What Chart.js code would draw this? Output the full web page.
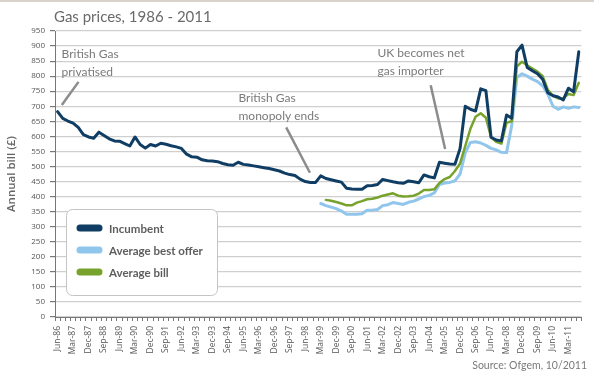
<!DOCTYPE html>
<html>
<head>
    <title>Gas prices, 1986 - 2011</title>
    <script src="https://cdn.jsdelivr.net/npm/chart.js"></script>
    <style>
        body { margin: 0; background: #fff; }
        #chart-gas { display: block; }
    </style>
</head>
<body>
    <canvas id="chart-gas" width="594" height="376"></canvas>

    <script>
        // Trimestres (categorías del eje x)
        const trimestres = [
            'Jun-86','Sep-86','Dec-86',
            'Mar-87','Jun-87','Sep-87','Dec-87',
            'Mar-88','Jun-88','Sep-88','Dec-88',
            'Mar-89','Jun-89','Sep-89','Dec-89',
            'Mar-90','Jun-90','Sep-90','Dec-90',
            'Mar-91','Jun-91','Sep-91','Dec-91',
            'Mar-92','Jun-92','Sep-92','Dec-92',
            'Mar-93','Jun-93','Sep-93','Dec-93',
            'Mar-94','Jun-94','Sep-94','Dec-94',
            'Mar-95','Jun-95','Sep-95','Dec-95',
            'Mar-96','Jun-96','Sep-96','Dec-96',
            'Mar-97','Jun-97','Sep-97','Dec-97',
            'Mar-98','Jun-98','Sep-98','Dec-98',
            'Mar-99','Jun-99','Sep-99','Dec-99',
            'Mar-00','Jun-00','Sep-00','Dec-00',
            'Mar-01','Jun-01','Sep-01','Dec-01',
            'Mar-02','Jun-02','Sep-02','Dec-02',
            'Mar-03','Jun-03','Sep-03','Dec-03',
            'Mar-04','Jun-04','Sep-04','Dec-04',
            'Mar-05','Jun-05','Sep-05','Dec-05',
            'Mar-06','Jun-06','Sep-06','Dec-06',
            'Mar-07','Jun-07','Sep-07','Dec-07',
            'Mar-08','Jun-08','Sep-08','Dec-08',
            'Mar-09','Jun-09','Sep-09','Dec-09',
            'Mar-10','Jun-10','Sep-10','Dec-10',
            'Mar-11','Jun-11','Sep-11'
        ];

        // Factura anual (£) por trimestre
        const incumbent = [
            682, 660, 651, 644, 630, 606, 598, 594, 614, 603,
            592, 585, 584, 576, 568, 598, 573, 561, 573, 568,
            577, 574, 569, 565, 560, 541, 532, 531, 522, 519,
            518, 516, 510, 506, 504, 514, 507, 505, 502, 499,
            496, 493, 489, 485, 478, 473, 470, 458, 450, 447,
            447, 469, 460, 456, 452, 448, 428, 425, 424, 424,
            436, 437, 440, 457, 453, 449, 446, 444, 452, 449,
            446, 472, 466, 462, 514, 511, 508, 507, 560, 700,
            690, 684, 758, 752, 597, 588, 585, 671, 660, 881,
            903, 829, 818, 808, 790, 745, 735, 731, 721, 760,
            748, 881
        ];

        const mejorOferta = [
            null, null, null, null, null, null, null, null, null, null,
            null, null, null, null, null, null, null, null, null, null,
            null, null, null, null, null, null, null, null, null, null,
            null, null, null, null, null, null, null, null, null, null,
            null, null, null, null, null, null, null, null, null, null,
            null, 377, 370, 365, 360, 352, 341, 341, 341, 343,
            355, 355, 357, 370, 373, 380, 377, 374, 381, 385,
            392, 400, 404, 412, 440, 445, 447, 452, 475, 545,
            580, 582, 578, 570, 560, 555, 547, 546, 635, 795,
            808, 800, 790, 782, 768, 740, 700, 690, 698, 693,
            698, 696
        ];

        const facturaMedia = [
            null, null, null, null, null, null, null, null, null, null,
            null, null, null, null, null, null, null, null, null, null,
            null, null, null, null, null, null, null, null, null, null,
            null, null, null, null, null, null, null, null, null, null,
            null, null, null, null, null, null, null, null, null, null,
            null, null, 389, 386, 382, 377, 371, 371, 380, 385,
            391, 393, 397, 403, 407, 411, 403, 400, 401, 403,
            410, 422, 422, 424, 445, 458, 465, 485, 510, 568,
            625, 665, 677, 662, 597, 582, 576, 645, 650, 832,
            848, 836, 825, 815, 800, 755, 735, 726, 727, 741,
            737, 778
        ];

        // Notas: [índice trimestre, valor] del texto y de la flecha
        const notas = [
            { texto: ['British Gas', 'privatised'], en: [0.76, 873], linea: [[0.82, 704], [4.06, 781]] },
            { texto: ['British Gas', 'monopoly ends'], en: [35.05, 726], linea: [[44.3, 630], [48.9, 479]] },
            { texto: ['UK becomes net', 'gas importer'], en: [62.0, 877], linea: [[72.3, 770], [75.1, 558]] }
        ];

        const series = [
            { nombre: 'Incumbent', datos: incumbent, color: '#0f3d63', ancho: 3, orden: 0 },
            { nombre: 'Average best offer', datos: mejorOferta, color: '#90c5ec', ancho: 3, orden: 2 },
            { nombre: 'Average bill', datos: facturaMedia, color: '#77a22c', ancho: 2.5, orden: 1 }
        ];

        const textoGris = '#7a7a7a';
        const tituloFuente = 'Lato, "Open Sans", sans-serif';

        // Dibujar título, notas, leyenda y fuente
        const extras = {
            id: 'extras',
            afterDraw(chart) {
                const ctx = chart.ctx;
                const x = chart.scales.x;
                const y = chart.scales.y;
                ctx.save();

                // línea superior
                ctx.fillStyle = '#d9d2ca';
                ctx.fillRect(0, 0, chart.width, 2);

                // título
                ctx.fillStyle = '#6a6a6a';
                ctx.font = '15px ' + tituloFuente;
                ctx.textBaseline = 'middle';
                ctx.textAlign = 'left';
                ctx.fillText('Gas prices, 1986 - 2011', 54, 17);

                // notas con flecha
                notas.forEach(n => {
                    const px = x.getPixelForValue(n.en[0]);
                    const py = y.getPixelForValue(n.en[1]);
                    ctx.fillStyle = textoGris;
                    ctx.font = '12px ' + tituloFuente;
                    n.texto.forEach((t, i) => ctx.fillText(t, px, py + i * 18));
                    ctx.strokeStyle = '#8c8c8c';
                    ctx.lineWidth = 2.5;
                    ctx.beginPath();
                    ctx.moveTo(x.getPixelForValue(n.linea[0][0]), y.getPixelForValue(n.linea[0][1]));
                    ctx.lineTo(x.getPixelForValue(n.linea[1][0]), y.getPixelForValue(n.linea[1][1]));
                    ctx.stroke();
                });

                // leyenda
                ctx.fillStyle = '#ffffff';
                ctx.strokeStyle = '#c4c4c4';
                ctx.lineWidth = 1;
                ctx.beginPath();
                ctx.roundRect(66.5, 209.5, 151, 86, 6);
                ctx.fill();
                ctx.stroke();
                series.forEach((s, i) => {
                    const cy = 228 + i * 22;
                    ctx.strokeStyle = s.color;
                    ctx.lineWidth = 7;
                    ctx.lineCap = 'round';
                    ctx.beginPath();
                    ctx.moveTo(80, cy);
                    ctx.lineTo(99, cy);
                    ctx.stroke();
                    ctx.fillStyle = '#5e5e5e';
                    ctx.font = 'bold 11.5px Lato, sans-serif';
                    ctx.fillText(s.nombre, 109, cy + 1);
                });

                // fuente
                ctx.fillStyle = textoGris;
                ctx.font = '10.5px ' + tituloFuente;
                ctx.textAlign = 'right';
                ctx.fillText('Source: Ofgem, 10/2011', 587, 366);
                ctx.restore();
            }
        };

        new Chart(document.getElementById('chart-gas'), {
            type: 'line',
            data: {
                labels: trimestres,
                datasets: series.map(s => ({
                    label: s.nombre,
                    data: s.datos,
                    borderColor: s.color,
                    backgroundColor: s.color,
                    borderWidth: s.ancho,
                    pointRadius: 0,
                    tension: 0,
                    fill: false,
                    order: s.orden,
                    borderJoinStyle: 'round',
                    borderCapStyle: 'round'
                }))
            },
            options: {
                responsive: false,
                animation: false,
                layout: { padding: { top: 31, right: 4, left: 0, bottom: 0 } },
                plugins: {
                    legend: { display: false },
                    tooltip: { enabled: false }
                },
                scales: {
                    x: {
                        offset: true,
                        grid: {
                            drawOnChartArea: false,
                            drawTicks: true,
                            tickLength: 4,
                            tickColor: '#777',
                            offset: true
                        },
                        border: { color: '#777', width: 1 },
                        ticks: {
                            autoSkip: false,
                            maxRotation: 90,
                            minRotation: 90,
                            padding: 5,
                            color: '#555',
                            font: { size: 8.5, family: '"Open Sans", sans-serif' },
                            callback: (v, i) => i % 3 === 0 ? trimestres[i] : ''
                        },
                        afterFit: s => { s.height = 59; }
                    },
                    y: {
                        min: 0,
                        max: 950,
                        ticks: {
                            stepSize: 50,
                            padding: 5,
                            color: '#555',
                            font: { size: 8, family: '"Open Sans", sans-serif' }
                        },
                        grid: {
                            color: '#cfcfcf',
                            lineWidth: 1.2,
                            tickColor: '#777',
                            tickLength: 5
                        },
                        border: { color: '#777', width: 1 },
                        title: {
                            display: true,
                            text: 'Annual bill (£)',
                            color: '#666',
                            font: { size: 11.5, weight: '600', family: '"Open Sans", sans-serif' },
                            padding: { top: 5, bottom: 0 }
                        },
                        afterFit: s => { s.width = 55; }
                    }
                }
            },
            plugins: [extras]
        });
    </script>
</body>
</html>
